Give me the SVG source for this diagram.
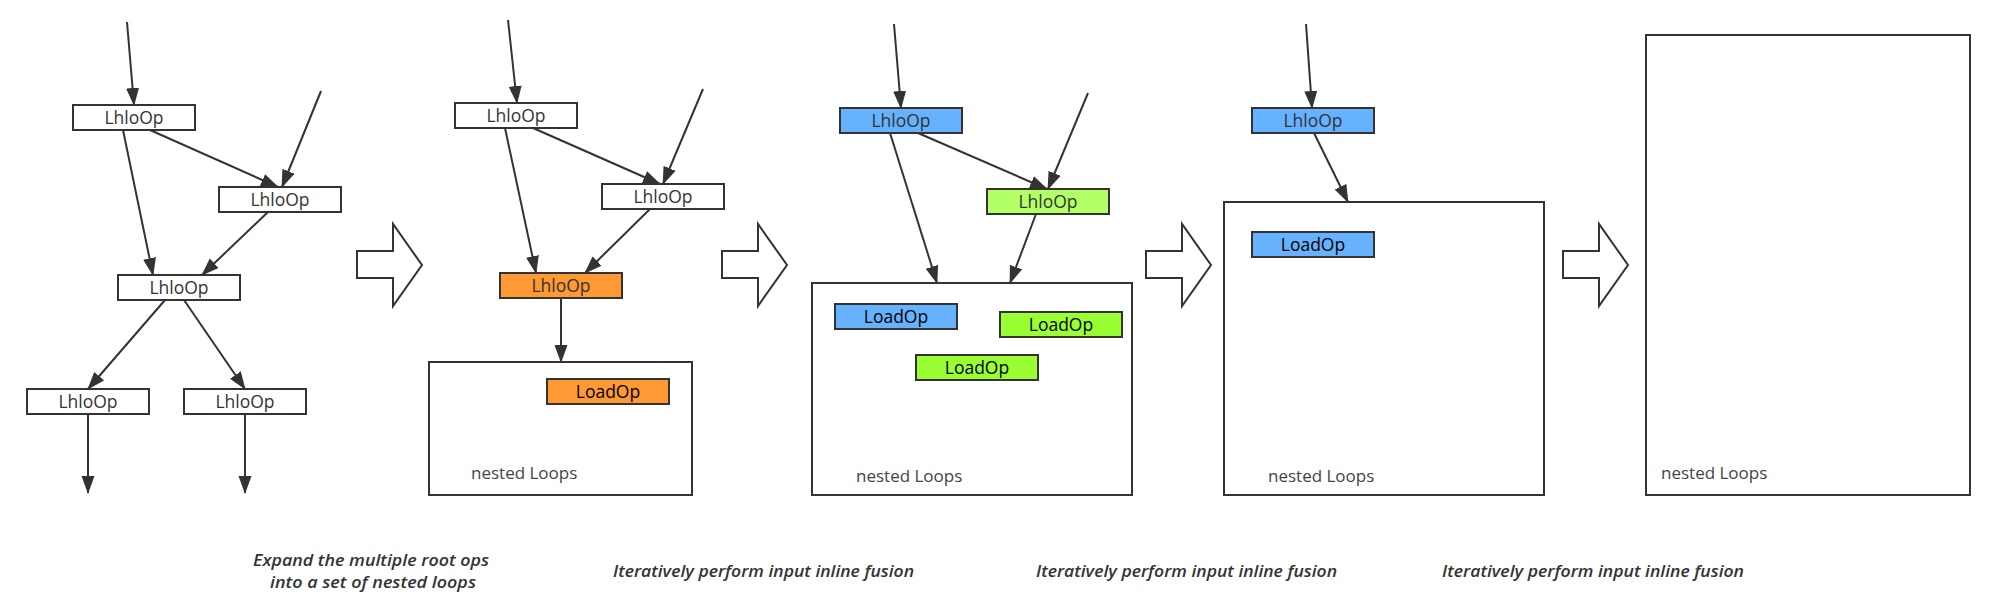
<svg xmlns="http://www.w3.org/2000/svg" width="1992" height="605" viewBox="0 0 1992 605">
<style>
.box{stroke:#333;stroke-width:2;}
.w{fill:#fff;}
.or{fill:#ff9933;}
.bl{fill:#66b2ff;}
.lg{fill:#b3ff66;}
.gr{fill:#99ff33;}
.lbl{font-family:"Open Sans","Liberation Sans",sans-serif;font-size:17.5px;text-anchor:middle;fill:#333;}
.ld{fill:#000;}
.nl{font-family:"Open Sans","Liberation Sans",sans-serif;font-size:17px;fill:#444;}
.cap{font-family:"Open Sans","Liberation Sans",sans-serif;font-size:16px;font-style:italic;font-weight:600;fill:#333;}
.loop{fill:#fff;stroke:#333;stroke-width:2;}
.edge{stroke:#333;stroke-width:2;fill:none;marker-end:url(#ah);}
.big{fill:#fff;stroke:#333;stroke-width:2;stroke-linejoin:miter;}
</style>
<defs>
<marker id="ah" markerUnits="userSpaceOnUse" markerWidth="20" markerHeight="14" refX="17" refY="6.5" orient="auto">
<path d="M0,0 L18,6.5 L0,13 Z" fill="#333"/>
</marker>
<polygon id="bigarrow" points="0,251 36,251 36,224 65,265 36,306 36,278 0,278"/>
</defs>
<rect width="1992" height="605" fill="#fff"/>

<!-- Panel 1 -->
<g id="p1-n1"><rect class="box w" x="73" y="105" width="122" height="25"/><text class="lbl" x="134" y="124">LhloOp</text></g>
<g id="p1-n2"><rect class="box w" x="219" y="187" width="122" height="25"/><text class="lbl" x="280" y="206">LhloOp</text></g>
<g id="p1-n3"><rect class="box w" x="118" y="275" width="122" height="25"/><text class="lbl" x="179" y="294">LhloOp</text></g>
<g id="p1-n4"><rect class="box w" x="27" y="389" width="122" height="25"/><text class="lbl" x="88" y="408">LhloOp</text></g>
<g id="p1-n5"><rect class="box w" x="184" y="389" width="122" height="25"/><text class="lbl" x="245" y="408">LhloOp</text></g>

<!-- Panel 2 -->
<g id="p2-loops"><rect class="loop" x="429" y="362" width="263" height="133"/><text class="nl" x="471" y="479">nested Loops</text></g>
<g id="p2-n1"><rect class="box w" x="455" y="103" width="122" height="25"/><text class="lbl" x="516" y="122">LhloOp</text></g>
<g id="p2-n2"><rect class="box w" x="602" y="184" width="122" height="25"/><text class="lbl" x="663" y="203">LhloOp</text></g>
<g id="p2-n3"><rect class="box or" x="500" y="273" width="122" height="25"/><text class="lbl" x="561" y="292">LhloOp</text></g>
<g id="p2-load"><rect class="box or" x="547" y="379" width="122" height="25"/><text class="lbl ld" x="608" y="398">LoadOp</text></g>

<!-- Panel 3 -->
<g id="p3-loops"><rect class="loop" x="812" y="283" width="320" height="212"/><text class="nl" x="856" y="482">nested Loops</text></g>
<g id="p3-n1"><rect class="box bl" x="840" y="108" width="122" height="25"/><text class="lbl" x="901" y="127">LhloOp</text></g>
<g id="p3-n2"><rect class="box lg" x="987" y="189" width="122" height="25"/><text class="lbl" x="1048" y="208">LhloOp</text></g>
<g id="p3-load1"><rect class="box bl" x="835" y="304" width="122" height="25"/><text class="lbl ld" x="896" y="323">LoadOp</text></g>
<g id="p3-load2"><rect class="box gr" x="1000" y="312" width="122" height="25"/><text class="lbl ld" x="1061" y="331">LoadOp</text></g>
<g id="p3-load3"><rect class="box gr" x="916" y="355" width="122" height="25"/><text class="lbl ld" x="977" y="374">LoadOp</text></g>

<!-- Panel 4 -->
<g id="p4-loops"><rect class="loop" x="1224" y="202" width="320" height="293"/><text class="nl" x="1268" y="482">nested Loops</text></g>
<g id="p4-n1"><rect class="box bl" x="1252" y="108" width="122" height="25"/><text class="lbl" x="1313" y="127">LhloOp</text></g>
<g id="p4-load"><rect class="box bl" x="1252" y="232" width="122" height="25"/><text class="lbl ld" x="1313" y="251">LoadOp</text></g>

<!-- Panel 5 -->
<g id="p5-loops"><rect class="loop" x="1646" y="35" width="324" height="460"/><text class="nl" x="1661" y="479">nested Loops</text></g>

<!-- Step arrows -->
<g id="step-arrows">
<use href="#bigarrow" class="big" x="357" y="0"/>
<use href="#bigarrow" class="big" x="722" y="0"/>
<use href="#bigarrow" class="big" x="1146" y="0"/>
<use href="#bigarrow" class="big" x="1563" y="0"/>
</g>

<!-- Connectors -->
<g id="connectors">
<line class="edge" x1="127" y1="22" x2="134" y2="105"/>
<line class="edge" x1="321" y1="91" x2="282" y2="187"/>
<line class="edge" x1="150" y1="130" x2="278" y2="187"/>
<line class="edge" x1="123" y1="130" x2="153" y2="275"/>
<line class="edge" x1="268" y1="212" x2="202" y2="275"/>
<line class="edge" x1="165" y1="300" x2="88" y2="389"/>
<line class="edge" x1="184" y1="300" x2="245" y2="389"/>
<line class="edge" x1="88" y1="414" x2="88" y2="493"/>
<line class="edge" x1="245" y1="414" x2="245" y2="493"/>

<line class="edge" x1="508" y1="20" x2="517" y2="103"/>
<line class="edge" x1="703" y1="89" x2="663" y2="184"/>
<line class="edge" x1="533" y1="128" x2="660" y2="184"/>
<line class="edge" x1="505" y1="128" x2="536" y2="273"/>
<line class="edge" x1="650" y1="209" x2="585" y2="273"/>
<line class="edge" x1="561" y1="298" x2="561" y2="362"/>

<line class="edge" x1="894" y1="24" x2="901" y2="108"/>
<line class="edge" x1="1088" y1="93" x2="1048" y2="189"/>
<line class="edge" x1="918" y1="133" x2="1047" y2="189"/>
<line class="edge" x1="890" y1="133" x2="937" y2="283"/>
<line class="edge" x1="1036" y1="214" x2="1010" y2="283"/>

<line class="edge" x1="1306" y1="24" x2="1312" y2="108"/>
<line class="edge" x1="1314" y1="133" x2="1348" y2="202"/>
</g>

<!-- Captions -->
<g id="captions">
<text class="cap" x="371" y="566" text-anchor="middle" textLength="236" lengthAdjust="spacingAndGlyphs">Expand the multiple root ops</text>
<text class="cap" x="373" y="588" text-anchor="middle" textLength="206" lengthAdjust="spacingAndGlyphs">into a set of nested loops</text>
<text class="cap" x="613" y="577" textLength="301" lengthAdjust="spacingAndGlyphs">Iteratively perform input inline fusion</text>
<text class="cap" x="1036" y="577" textLength="301" lengthAdjust="spacingAndGlyphs">Iteratively perform input inline fusion</text>
<text class="cap" x="1442" y="577" textLength="302" lengthAdjust="spacingAndGlyphs">Iteratively perform input inline fusion</text>
</g>
</svg>
